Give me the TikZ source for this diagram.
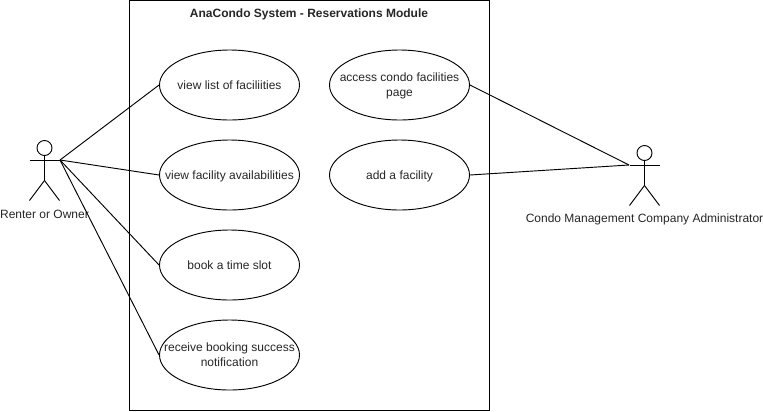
\documentclass[tikz,border=0pt]{standalone}
\usepackage{fontspec}
\setmainfont{Liberation Sans}
\usetikzlibrary{shapes.geometric}

\tikzset{
	usecase/.style={draw, ellipse, minimum width=105pt, minimum height=52.5pt, inner sep=0pt, font=\fontsize{9}{11.25}\selectfont, text=black!85},
	caption/.style={inner sep=0pt, font=\fontsize{9}{11.25}\selectfont, text=black!85},
}
\newcommand{\stickman}[2]{
	\draw (#1,#2) circle (7.5);
	\draw (#1,#2+7.5) -- ++(0,25) -- ++(-15,20);
	\draw (#1,#2+32.5) -- ++(15,20);
	\draw (#1-15,#2+12.5) -- ++(30,0);
}
% Text that does not widen its ellipse %
\newcommand{\uctext}[1]{\makebox[0pt]{\raisebox{-3pt}[0pt][0pt]{\begin{tabular}{@{}c@{}}#1\end{tabular}}}}

\begin{document}
\begin{tikzpicture}[x=0.75pt, y=-0.75pt, line width=0.7pt]
	\useasboundingbox (0,0) rectangle (763,411);

	% System %
	\draw (129.5,0.5) rectangle (489.5,410);
	\node [caption, font=\fontsize{9}{11.25}\selectfont\bfseries] (title) at (309,14) {AnaCondo System - Reservations Module};
	% Use cases %
	\node [usecase] (viewlist) at (229.5,85) {\uctext{view list of faciliities}};
	\node [usecase] (viewavail) at (229.5,175) {\uctext{view facility availabilities}};
	\node [usecase] (booking) at (229.5,265) {\uctext{book a time slot}};
	\node [usecase] (receive) at (229.5,355) {\uctext{receive booking success\\notification}};
	\node [usecase] (access) at (399.5,85) {\uctext{access condo facilities\\page}};
	\node [usecase] (addfacility) at (399.5,175) {\uctext{add a facility}};
	% Actors %
	\stickman{44.5}{148}
	\stickman{644.5}{153}
	\node [caption] (renterlabel) at (44.5,214.5) {Renter or Owner};
	\node [caption] (adminlabel) at (644.5,219.5) {Condo Management Company Administrator};
	\coordinate (renter) at (60,160);
	\coordinate (admin) at (629,165);
	% Associations %
	\foreach \target in {viewlist, viewavail, booking, receive}
		\draw (renter) -- (\target.west);
	\foreach \target in {access, addfacility}
		\draw (admin) -- (\target.east);
\end{tikzpicture}
\end{document}
